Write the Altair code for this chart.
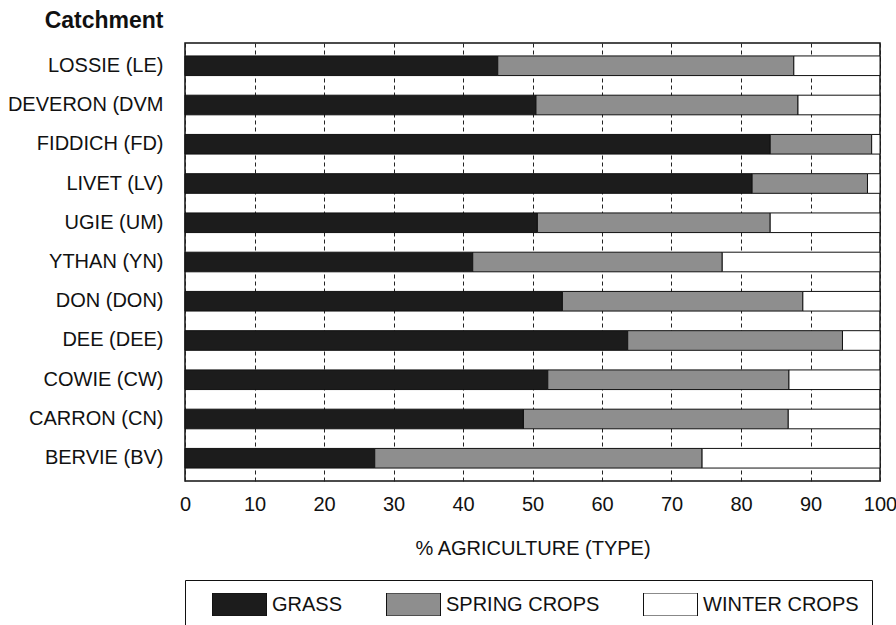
import altair as alt
import pandas as pd

catchments = ["LOSSIE (LE)", "DEVERON (DVM", "FIDDICH (FD)", "LIVET (LV)", "UGIE (UM)",
              "YTHAN (YN)", "DON (DON)", "DEE (DEE)", "COWIE (CW)", "CARRON (CN)", "BERVIE (BV)"]
grass = [45.0, 50.5, 84.2, 81.6, 50.7, 41.4, 54.3, 63.7, 52.2, 48.7, 27.3]
spring_crops = [42.6, 37.7, 14.6, 16.6, 33.5, 35.9, 34.6, 30.9, 34.7, 38.1, 47.1]
winter_crops = [round(100 - g - s, 1) for g, s in zip(grass, spring_crops)]

types = ["GRASS", "SPRING CROPS", "WINTER CROPS"]
colors = ["#1c1c1c", "#8e8e8e", "#ffffff"]
x_ticks = [0, 10, 20, 30, 40, 50, 60, 70, 80, 90, 100]

rows = []
for i, c in enumerate(catchments):
    start = 0.0
    for t, v in zip(types, [grass[i], spring_crops[i], winter_crops[i]]):
        rows.append({"catchment": c, "type": t, "start": start, "end": start + v, "value": v})
        start += v
df = pd.DataFrame(rows)

FONT = "Liberation Sans"

chart = (
    alt.Chart(df)
    .mark_bar(stroke="#111", strokeWidth=1)
    .encode(
        y=alt.Y(
            "catchment:N",
            sort=catchments,
            scale=alt.Scale(paddingInner=0.5, paddingOuter=0.33),
            axis=alt.Axis(
                title="Catchment",
                titleAngle=0,
                titleX=-22,
                titleY=-16,
                titleAlign="right",
                titleBaseline="alphabetic",
                titleFontSize=23,
                titleFontWeight="bold",
                titleColor="#111",
                labelFontSize=20,
                labelColor="#111",
                labelPadding=22,
                ticks=False,
                tickSize=0,
                domain=False,
                grid=False,
            ),
        ),
        x=alt.X(
            "start:Q",
            scale=alt.Scale(domain=[0, 100], nice=False),
            axis=alt.Axis(
                title="% AGRICULTURE (TYPE)",
                values=x_ticks,
                titleFontSize=20,
                titleFontWeight="normal",
                titleColor="#111",
                titleY=67,
                titleBaseline="middle",
                labelFontSize=20,
                labelColor="#111",
                labelPadding=13,
                labelFlush=False,
                labelOverlap=False,
                ticks=False,
                tickSize=0,
                domain=False,
                grid=True,
                gridColor="#222",
                gridDash=[4, 3],
                gridWidth=1,
            ),
        ),
        x2="end:Q",
        color=alt.Color(
            "type:N",
            scale=alt.Scale(domain=types, range=colors),
            legend=alt.Legend(
                title=None,
                orient="none",
                legendX=0,
                legendY=537,
                direction="horizontal",
                columns=3,
                columnPadding=29,
                padding=13,
                strokeColor="#111",
                fillColor="#ffffff",
                cornerRadius=0,
                symbolType="M-1,-0.426L1,-0.426L1,0.426L-1,0.426Z",
                symbolSize=2916,
                symbolStrokeColor="#111",
                symbolStrokeWidth=1,
                symbolOffset=14,
                labelOffset=5,
                clipHeight=23,
                labelFontSize=20,
                labelColor="#111",
            ),
        ),
    )
    .properties(
        width=695,
        height=438,
        autosize=alt.AutoSizeParams(type="none"),
        padding={"left": 185, "top": 43, "right": 16, "bottom": 144},
        background="#ffffff",
    )
    .configure(font=FONT)
    .configure_view(stroke="#111", strokeWidth=1.5, fill="#ffffff")
)

chart.save("out.html", embed_options={"renderer": "svg", "actions": False})
